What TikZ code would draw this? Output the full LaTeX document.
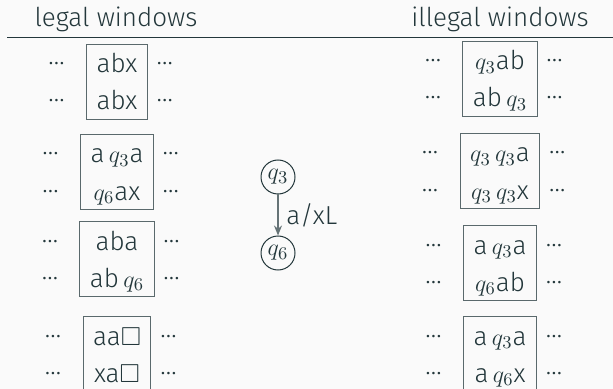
\documentclass[tikz,border=0pt]{standalone}
\usepackage{amssymb}
\usepackage{fontspec}
\setmainfont{Fira Sans Light}
\usetikzlibrary{positioning,arrows.meta}

\definecolor{tinta}{HTML}{23373B}
\definecolor{fondo}{HTML}{FAFAFA}
\newcommand{\puntal}{\rule[-4.5pt]{0pt}{18.5pt}}
\newcommand{\tres}{\puntal\raisebox{4pt}{\textellipsis}}

\begin{document}
\begin{tikzpicture}[x=0.5pt,y=-0.5pt,
    every node/.style={text=tinta,font=\fontsize{13}{18.5}\selectfont},
    ventana/.style={draw=tinta!75,line width=0.5pt,align=center,
        inner xsep=5pt,inner ysep=0.25pt},
    puntos/.style={align=center,inner sep=0pt},
    estado/.style={circle,draw=tinta,line width=0.5pt,
        minimum size=17pt,inner sep=0pt}]

        % Paso 1: Fondo y tamaño de la figura
        \fill[fondo] (0,0) rectangle (613,389);
        \useasboundingbox (0,0) rectangle (613,389);

        % Paso 2: Títulos y la regla
        \node[anchor=base] (tlegal) at (116,27) {legal windows};
        \node[anchor=base] (tilegal) at (500,27) {illegal windows};
        \draw[tinta,line width=0.5pt] (7,38) -- (613,38);

        % Paso 3: Ventanas legales (columna izquierda)
        \node[ventana] (L1) at (117,82) {\puntal abx\\\puntal abx};
        \node[ventana] (L2) at (117,172) {\puntal a\,$q_3$a\\\puntal $q_6$ax};
        \node[ventana] (L3) at (117,259) {\puntal aba\\\puntal ab\,$q_6$};
        \node[ventana] (L4) at (117,354) {\puntal aa$\square$\\\puntal xa$\square$};

        \node[puntos,left=10.5pt of L1] (L1i) {\tres\\\tres};
        \node[puntos,right=4.2pt of L1] (L1d) {\tres\\\tres};
        \node[puntos,left=10.5pt of L2] (L2i) {\tres\\\tres};
        \node[puntos,right=4.2pt of L2] (L2d) {\tres\\\tres};
        \node[puntos,left=10.5pt of L3] (L3i) {\tres\\\tres};
        \node[puntos,right=4.2pt of L3] (L3d) {\tres\\\tres};
        \node[puntos,left=10.5pt of L4] (L4i) {\tres\\\tres};
        \node[puntos,right=4.2pt of L4] (L4d) {\tres\\\tres};

        % Paso 4: Ventanas ilegales (columna derecha)
        \node[ventana] (I1) at (500,79) {\puntal $q_3$ab\\\puntal ab\,$q_3$};
        \node[ventana] (I2) at (500,171) {\puntal $q_3$\,$q_3$a\\\puntal $q_3$\,$q_3$x};
        \node[ventana] (I3) at (500,263) {\puntal a\,$q_3$a\\\puntal $q_6$ab};
        \node[ventana] (I4) at (500,354) {\puntal a\,$q_3$a\\\puntal a\,$q_6$x};

        \node[puntos,left=10.5pt of I1] (I1i) {\tres\\\tres};
        \node[puntos,right=4.2pt of I1] (I1d) {\tres\\\tres};
        \node[puntos,left=10.5pt of I2] (I2i) {\tres\\\tres};
        \node[puntos,right=4.2pt of I2] (I2d) {\tres\\\tres};
        \node[puntos,left=10.5pt of I3] (I3i) {\tres\\\tres};
        \node[puntos,right=4.2pt of I3] (I3d) {\tres\\\tres};
        \node[puntos,left=10.5pt of I4] (I4i) {\tres\\\tres};
        \node[puntos,right=4.2pt of I4] (I4d) {\tres\\\tres};

        % Paso 5: La transición de q3 a q6
        \node[estado] (q3) at (278,177) {$q_3$};
        \node[estado] (q6) at (278,253) {$q_6$};
        \draw[-{Stealth[length=5pt,width=4pt]},tinta!70,line width=0.6pt]
            (q3) -- node[right,xshift=0.5pt] (etiq) {a/xL} (q6);
    \end{tikzpicture}
\end{document}
